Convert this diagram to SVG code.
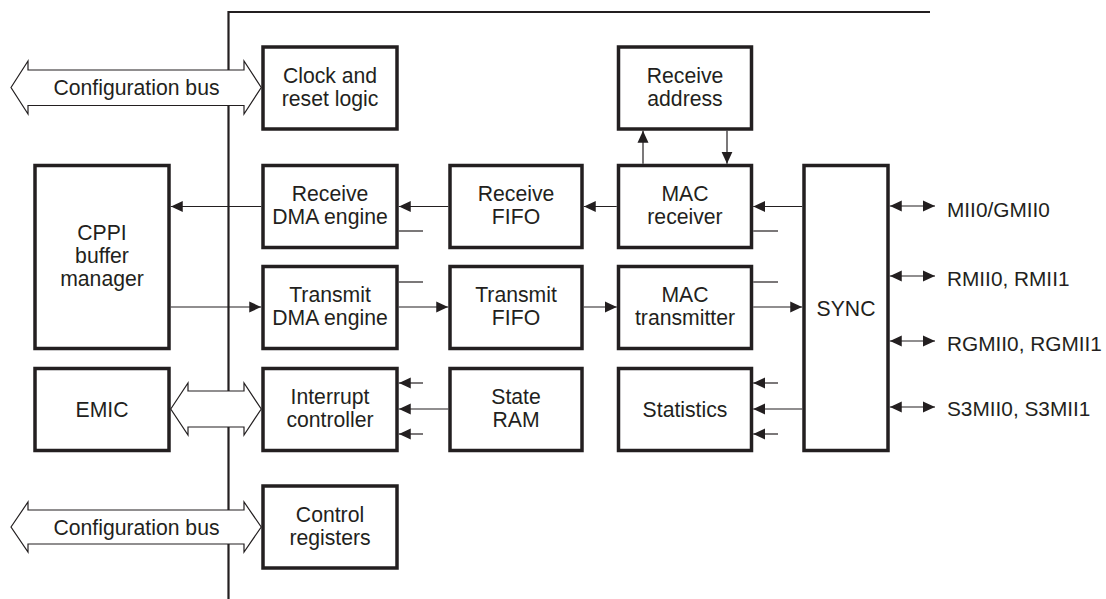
<svg xmlns="http://www.w3.org/2000/svg" width="1106" height="599" viewBox="0 0 1106 599">
<style>
.box{fill:#fff;stroke:#231f20;stroke-width:3.5}
.bus{fill:#fff;stroke:#231f20;stroke-width:1.2;stroke-linejoin:miter}
.frame{fill:none;stroke:#231f20;stroke-width:2.2}
.c{fill:none;stroke:#231f20;stroke-width:1.2}
.a{marker-end:url(#ah)}
.d{marker-start:url(#ah);marker-end:url(#ah)}
text{font-family:"Liberation Sans",Arial,Helvetica,sans-serif;font-size:21.2px;fill:#231f20}
.m{text-anchor:middle}
.p{font-size:20.8px}
</style>
<defs>
<marker id="ah" viewBox="0 0 12 12" refX="12" refY="6" markerWidth="12" markerHeight="12" orient="auto-start-reverse" markerUnits="userSpaceOnUse">
<path d="M0,0.5 L12,6 L0,11.5 Z" fill="#231f20"/>
</marker>
</defs>
<g id="frame">
<path class="frame" d="M228.5,599 V12 H930"/>
</g>
<g id="buses">
<polygon id="bus-config-top" class="bus" points="11,87.5 28,61 28,70 244,70 244,61 261.25,87.5 244,114 244,105.5 28,105.5 28,114"/>
<polygon id="bus-emic" class="bus" points="170.75,409 188,383 188,391 244,391 244,383 261.25,409 244,435 244,427 188,427 188,435"/>
<polygon id="bus-config-bottom" class="bus" points="11,527 28,502 28,510 244,510 244,502 261.25,527 244,552 244,544 28,544 28,552"/>
<text class="m" x="136.5" y="95">Configuration bus</text>
<text class="m" x="136.5" y="534.5">Configuration bus</text>
</g>
<g id="clock">
<rect class="box" x="263" y="47" width="134" height="82"/>
<text class="m" x="330" y="83">Clock and</text>
<text class="m" x="330" y="106">reset logic</text>
</g>
<g id="rxaddr">
<rect class="box" x="618.5" y="47" width="133" height="82"/>
<text class="m" x="685" y="82.5">Receive</text>
<text class="m" x="685" y="105.5">address</text>
</g>
<g id="cppi">
<rect class="box" x="35" y="165.5" width="134" height="183"/>
<text class="m" x="102" y="239.5">CPPI</text>
<text class="m" x="102" y="262.5">buffer</text>
<text class="m" x="102" y="285.5">manager</text>
</g>
<g id="rxdma">
<rect class="box" x="263" y="165.5" width="134" height="82"/>
<text class="m" x="330" y="201">Receive</text>
<text class="m" x="330" y="224">DMA engine</text>
</g>
<g id="rxfifo">
<rect class="box" x="450" y="165.5" width="132" height="82"/>
<text class="m" x="516" y="201">Receive</text>
<text class="m" x="516" y="224">FIFO</text>
</g>
<g id="macrx">
<rect class="box" x="618.5" y="165.5" width="133" height="82"/>
<text class="m" x="685" y="201">MAC</text>
<text class="m" x="685" y="224">receiver</text>
</g>
<g id="txdma">
<rect class="box" x="263" y="266.5" width="134" height="82"/>
<text class="m" x="330" y="302">Transmit</text>
<text class="m" x="330" y="325">DMA engine</text>
</g>
<g id="txfifo">
<rect class="box" x="450" y="266.5" width="132" height="82"/>
<text class="m" x="516" y="302">Transmit</text>
<text class="m" x="516" y="325">FIFO</text>
</g>
<g id="mactx">
<rect class="box" x="618.5" y="266.5" width="133" height="82"/>
<text class="m" x="685" y="302">MAC</text>
<text class="m" x="685" y="325">transmitter</text>
</g>
<g id="sync">
<rect class="box" x="804" y="165.5" width="84" height="285"/>
<text class="m" x="846" y="316">SYNC</text>
</g>
<g id="emic">
<rect class="box" x="35" y="368.5" width="134" height="82"/>
<text class="m" x="102" y="417">EMIC</text>
</g>
<g id="intc">
<rect class="box" x="263" y="368.5" width="134" height="82"/>
<text class="m" x="330" y="404">Interrupt</text>
<text class="m" x="330" y="427">controller</text>
</g>
<g id="stateram">
<rect class="box" x="450" y="368.5" width="132" height="82"/>
<text class="m" x="516" y="404">State</text>
<text class="m" x="516" y="427">RAM</text>
</g>
<g id="stats">
<rect class="box" x="618.5" y="368.5" width="133" height="82"/>
<text class="m" x="685" y="417">Statistics</text>
</g>
<g id="ctrlreg">
<rect class="box" x="263" y="486" width="134" height="82"/>
<text class="m" x="330" y="521.5">Control</text>
<text class="m" x="330" y="544.5">registers</text>
</g>
<g id="connectors">
<line class="c a" x1="643" y1="163.75" x2="643" y2="130.75"/>
<line class="c a" x1="727" y1="130.75" x2="727" y2="163.75"/>
<line class="c a" x1="261.25" y1="206.5" x2="170.75" y2="206.5"/>
<line class="c a" x1="448.25" y1="206.5" x2="398.75" y2="206.5"/>
<line class="c a" x1="616.75" y1="206.5" x2="583.75" y2="206.5"/>
<line class="c a" x1="802.25" y1="206.5" x2="753.25" y2="206.5"/>
<line class="c" x1="398.75" y1="231" x2="423" y2="231"/>
<line class="c" x1="753.25" y1="231" x2="778" y2="231"/>
<line class="c" x1="398.75" y1="282" x2="423" y2="282"/>
<line class="c" x1="753.25" y1="282" x2="778" y2="282"/>
<line class="c a" x1="170.75" y1="307" x2="261.25" y2="307"/>
<line class="c a" x1="398.75" y1="307" x2="448.25" y2="307"/>
<line class="c a" x1="583.75" y1="307" x2="616.75" y2="307"/>
<line class="c a" x1="753.25" y1="307" x2="802.25" y2="307"/>
<line class="c a" x1="423" y1="383" x2="398.75" y2="383"/>
<line class="c a" x1="448.25" y1="409" x2="398.75" y2="409"/>
<line class="c a" x1="423" y1="434" x2="398.75" y2="434"/>
<line class="c a" x1="778" y1="383" x2="753.25" y2="383"/>
<line class="c a" x1="802.25" y1="409" x2="753.25" y2="409"/>
<line class="c a" x1="778" y1="434" x2="753.25" y2="434"/>
<line class="c d" x1="889.75" y1="206" x2="935" y2="206"/>
<line class="c d" x1="889.75" y1="276" x2="935" y2="276"/>
<line class="c d" x1="889.75" y1="341" x2="935" y2="341"/>
<line class="c d" x1="889.75" y1="407" x2="935" y2="407"/>
</g>
<g id="port-labels">
<text class="p" x="947" y="216.5">MII0/GMII0</text>
<text class="p" x="947" y="285.5">RMII0, RMII1</text>
<text class="p" x="947" y="350.5">RGMII0, RGMII1</text>
<text class="p" x="947" y="416">S3MII0, S3MII1</text>
</g>
</svg>
